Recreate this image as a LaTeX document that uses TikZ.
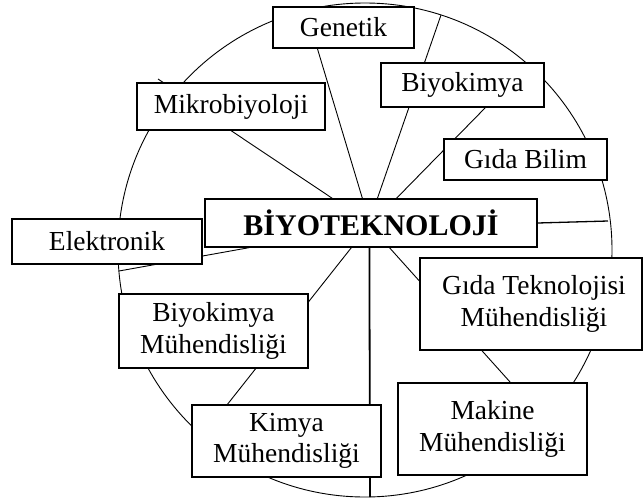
\documentclass[tikz,border=0pt]{standalone}
\usepackage{fontspec}
\setmainfont{Liberation Serif}
\usetikzlibrary{calc,backgrounds}
\begin{document}
\begin{tikzpicture}[x=1pt,y=-1pt,
  box/.style={draw,line width=1.2pt,fill=white,inner sep=0pt,align=center,
    font=\fontsize{27.5}{31.5}\selectfont},
  link/.style={line width=0.9pt},
  thick link/.style={line width=1.8pt},
  ring/.style={line width=0.9pt}]
\useasboundingbox (0,0) rectangle (643,501);
% boxes
\node[box,minimum width=188pt,minimum height=47pt] (mikro) at (231,106.5) {Mikrobiyoloji};
\node[box,minimum width=141pt,minimum height=41pt] (genetik) at (343.5,27.5) {Genetik};
\node[box,minimum width=163pt,minimum height=44pt] (biyokimya) at (462.5,85) {Biyokimya};
\node[box,minimum width=163pt,minimum height=41pt] (gidabilim) at (525.5,159.5) {Gıda Bilim};
\node[box,minimum width=332pt,minimum height=48pt,font=\fontsize{30}{31}\selectfont\bfseries] (biyo) at (371,223) {BİYOTEKNOLOJİ};
\node[box,minimum width=190pt,minimum height=45pt] (elektronik) at (107,241.5) {Elektronik};
\node[box,minimum width=189pt,minimum height=74pt] (biyomuh) at (213.5,331) {Biyokimya\\Mühendisliği};
\node[box,minimum width=222pt,minimum height=92pt] (gidatek) at (531,304) {\hspace*{6pt}Gıda Teknolojisi\\\hspace*{6pt}Mühendisliği};
\node[box,minimum width=189pt,minimum height=72pt] (kimya) at (286.5,441) {Kimya\\Mühendisliği};
\node[box,minimum width=189pt,minimum height=92pt] (makine) at (492.5,429) {Makine\\Mühendisliği};
% free ends on the ring
\coordinate (ctr) at (365,250);
\coordinate (rtop) at (441,15);
\coordinate (rleft) at (119,271);
\coordinate (rright) at (608,221);
\coordinate (rbottom) at (370,497);
\coordinate (tick1) at (158,79);
\coordinate (tick2) at (164,83);
\begin{pgfonlayer}{background}
\draw[ring] (ctr) circle [radius=247pt];
\draw[link] (mikro.south) -- ($(biyo.north west)+(128,0)$);
\draw[link] ($(genetik.south west)+(45,0)$) -- ($(biyo.north west)+(158,0)$);
\draw[link] ($(biyo.north west)+(173,0)$) -- (rtop);
\draw[link] ($(biyo.north west)+(192,0)$) -- ($(biyokimya.south west)+(105,0)$);
\draw[link] ($(biyo.south west)+(45,0)$) -- (rleft);
\draw[link,line width=1.3pt] (biyo.east) -- (rright);
\draw[link] ($(biyo.south west)+(147,0)$) -- ($(kimya.north west)+(36,0)$);
\draw[thick link] ($(biyo.south west)+(165,0)$) -- (rbottom);
\draw[link] ($(biyo.south west)+(185,0)$) -- ($(makine.north west)+(113,0)$);
\draw[link] (tick1) -- (tick2);
\end{pgfonlayer}
\end{tikzpicture}
\end{document}
